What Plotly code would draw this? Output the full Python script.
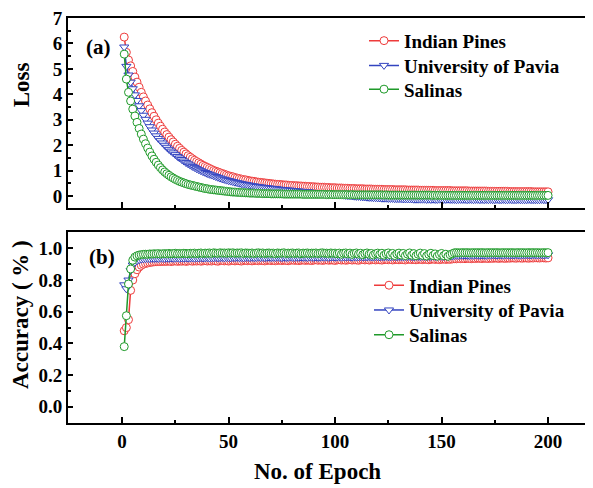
import plotly.graph_objects as go

epochs = list(range(1, 201))

loss_indian = [
    6.25, 5.65, 5.35, 5.12, 4.90, 4.68, 4.48, 4.28, 4.08, 3.90,
    3.74, 3.58, 3.43, 3.28, 3.14, 3.00, 2.87, 2.75, 2.63, 2.52,
    2.42, 2.32, 2.22, 2.13, 2.04, 1.96, 1.88, 1.80, 1.73, 1.66,
    1.59, 1.53, 1.47, 1.41, 1.36, 1.31, 1.26, 1.21, 1.17, 1.13,
    1.09, 1.05, 1.01, 0.98, 0.95, 0.92, 0.89, 0.86, 0.83, 0.80,
    0.78, 0.76, 0.73, 0.71, 0.69, 0.67, 0.65, 0.64, 0.62, 0.60,
    0.59, 0.58, 0.56, 0.55, 0.54, 0.53, 0.52, 0.51, 0.50, 0.49,
    0.48, 0.47, 0.46, 0.46, 0.45, 0.44, 0.44, 0.43, 0.42, 0.42,
    0.41, 0.41, 0.40, 0.40, 0.39, 0.39, 0.38, 0.38, 0.37, 0.37,
    0.36, 0.36, 0.35, 0.35, 0.35, 0.34, 0.34, 0.33, 0.33, 0.33,
    0.32, 0.32, 0.32, 0.31, 0.31, 0.31, 0.30, 0.30, 0.30, 0.29,
    0.29, 0.29, 0.29, 0.28, 0.28, 0.28, 0.28, 0.27, 0.27, 0.27,
    0.27, 0.27, 0.26, 0.26, 0.26, 0.26, 0.26, 0.25, 0.25, 0.25,
    0.25, 0.25, 0.25, 0.24, 0.24, 0.24, 0.24, 0.24, 0.24, 0.23,
    0.23, 0.23, 0.23, 0.23, 0.23, 0.23, 0.22, 0.22, 0.22, 0.22,
    0.22, 0.22, 0.22, 0.22, 0.21, 0.21, 0.21, 0.21, 0.21, 0.21,
    0.21, 0.21, 0.20, 0.20, 0.20, 0.20, 0.20, 0.20, 0.20, 0.20,
    0.20, 0.19, 0.19, 0.19, 0.19, 0.19, 0.19, 0.19, 0.19, 0.19,
    0.19, 0.18, 0.18, 0.18, 0.18, 0.18, 0.18, 0.18, 0.18, 0.18,
    0.18, 0.18, 0.17, 0.17, 0.17, 0.17, 0.17, 0.17, 0.17, 0.17,
]

loss_pavia = [
    5.86, 5.10, 4.76, 4.48, 4.22, 3.98, 3.76, 3.55, 3.36, 3.18,
    3.02, 2.87, 2.73, 2.60, 2.48, 2.37, 2.27, 2.18, 2.09, 2.00,
    1.92, 1.84, 1.77, 1.70, 1.63, 1.56, 1.50, 1.44, 1.38, 1.32,
    1.27, 1.22, 1.17, 1.13, 1.08, 1.04, 1.00, 0.96, 0.93, 0.89,
    0.86, 0.83, 0.80, 0.77, 0.74, 0.71, 0.68, 0.66, 0.63, 0.61,
    0.59, 0.57, 0.55, 0.53, 0.51, 0.49, 0.47, 0.46, 0.44, 0.43,
    0.41, 0.40, 0.38, 0.37, 0.36, 0.35, 0.34, 0.33, 0.32, 0.31,
    0.30, 0.29, 0.28, 0.27, 0.26, 0.25, 0.24, 0.24, 0.23, 0.22,
    0.21, 0.20, 0.20, 0.19, 0.18, 0.17, 0.17, 0.16, 0.15, 0.14,
    0.14, 0.13, 0.12, 0.11, 0.11, 0.10, 0.09, 0.08, 0.08, 0.07,
    0.06, 0.05, 0.05, 0.04, 0.03, 0.02, 0.02, 0.01, 0.00, -0.01,
    -0.01, -0.02, -0.03, -0.03, -0.04, -0.05, -0.05, -0.06, -0.06, -0.07,
    -0.07, -0.08, -0.08, -0.08, -0.09, -0.09, -0.09, -0.10, -0.10, -0.10,
    -0.10, -0.11, -0.11, -0.11, -0.11, -0.11, -0.12, -0.12, -0.12, -0.12,
    -0.12, -0.12, -0.13, -0.12, -0.13, -0.12, -0.13, -0.13, -0.12, -0.13,
    -0.13, -0.13, -0.12, -0.13, -0.13, -0.13, -0.14, -0.13, -0.13, -0.13,
    -0.13, -0.14, -0.13, -0.13, -0.14, -0.13, -0.13, -0.14, -0.13, -0.14,
    -0.13, -0.14, -0.13, -0.14, -0.14, -0.13, -0.14, -0.14, -0.13, -0.14,
    -0.14, -0.13, -0.14, -0.14, -0.14, -0.13, -0.14, -0.14, -0.14, -0.14,
    -0.13, -0.14, -0.14, -0.14, -0.14, -0.14, -0.13, -0.14, -0.14, -0.14,
]

loss_salinas = [
    5.58, 4.60, 4.08, 3.74, 3.42, 3.15, 2.90, 2.66, 2.44, 2.24,
    2.06, 1.89, 1.73, 1.58, 1.45, 1.33, 1.22, 1.12, 1.03, 0.95,
    0.88, 0.82, 0.76, 0.71, 0.66, 0.62, 0.58, 0.55, 0.52, 0.49,
    0.46, 0.44, 0.42, 0.40, 0.38, 0.36, 0.34, 0.32, 0.30, 0.29,
    0.27, 0.26, 0.25, 0.24, 0.23, 0.22, 0.21, 0.20, 0.19, 0.18,
    0.17, 0.16, 0.16, 0.15, 0.15, 0.14, 0.14, 0.13, 0.13, 0.12,
    0.12, 0.12, 0.11, 0.11, 0.11, 0.10, 0.10, 0.10, 0.10, 0.09,
    0.09, 0.09, 0.09, 0.09, 0.09, 0.08, 0.08, 0.08, 0.08, 0.08,
    0.08, 0.08, 0.08, 0.08, 0.07, 0.07, 0.07, 0.07, 0.07, 0.07,
    0.07, 0.07, 0.07, 0.07, 0.07, 0.06, 0.06, 0.07, 0.06, 0.06,
    0.06, 0.06, 0.06, 0.06, 0.06, 0.06, 0.05, 0.06, 0.05, 0.05,
    0.05, 0.05, 0.05, 0.05, 0.05, 0.05, 0.05, 0.05, 0.05, 0.05,
    0.05, 0.05, 0.04, 0.05, 0.04, 0.04, 0.04, 0.04, 0.04, 0.04,
    0.04, 0.04, 0.04, 0.04, 0.04, 0.04, 0.04, 0.04, 0.04, 0.04,
    0.04, 0.04, 0.04, 0.04, 0.04, 0.03, 0.04, 0.03, 0.04, 0.03,
    0.03, 0.03, 0.03, 0.03, 0.03, 0.03, 0.03, 0.03, 0.03, 0.03,
    0.03, 0.03, 0.03, 0.03, 0.03, 0.03, 0.03, 0.03, 0.03, 0.03,
    0.03, 0.03, 0.03, 0.03, 0.03, 0.03, 0.03, 0.03, 0.03, 0.03,
    0.03, 0.03, 0.03, 0.03, 0.03, 0.03, 0.03, 0.03, 0.03, 0.03,
    0.03, 0.03, 0.03, 0.03, 0.03, 0.03, 0.03, 0.03, 0.03, 0.03,
]

acc_indian = [
    0.480, 0.500, 0.550, 0.735, 0.800, 0.840, 0.865, 0.882, 0.893, 0.900,
    0.905, 0.908, 0.911, 0.913, 0.915, 0.916, 0.917, 0.917, 0.918, 0.918,
    0.918, 0.920, 0.917, 0.919, 0.921, 0.918, 0.920, 0.919, 0.921, 0.918,
    0.920, 0.922, 0.919, 0.921, 0.920, 0.922, 0.919, 0.921, 0.923, 0.920,
    0.922, 0.920, 0.923, 0.921, 0.919, 0.922, 0.924, 0.921, 0.923, 0.920,
    0.922, 0.924, 0.921, 0.923, 0.922, 0.920, 0.923, 0.925, 0.922, 0.924,
    0.921, 0.923, 0.925, 0.922, 0.924, 0.923, 0.921, 0.924, 0.926, 0.923,
    0.925, 0.922, 0.924, 0.926, 0.923, 0.925, 0.924, 0.922, 0.925, 0.927,
    0.924, 0.926, 0.923, 0.925, 0.927, 0.924, 0.926, 0.925, 0.923, 0.926,
    0.928, 0.925, 0.927, 0.924, 0.926, 0.928, 0.925, 0.927, 0.926, 0.924,
    0.927, 0.929, 0.926, 0.928, 0.925, 0.927, 0.929, 0.926, 0.928, 0.927,
    0.925, 0.928, 0.930, 0.927, 0.929, 0.926, 0.928, 0.930, 0.927, 0.929,
    0.928, 0.926, 0.929, 0.931, 0.928, 0.930, 0.927, 0.929, 0.931, 0.928,
    0.930, 0.929, 0.927, 0.930, 0.932, 0.929, 0.931, 0.928, 0.930, 0.932,
    0.929, 0.931, 0.930, 0.928, 0.931, 0.933, 0.930, 0.932, 0.929, 0.931,
    0.933, 0.930, 0.932, 0.931, 0.933, 0.935, 0.934, 0.936, 0.935, 0.936,
    0.935, 0.937, 0.936, 0.935, 0.937, 0.936, 0.938, 0.937, 0.936, 0.938,
    0.937, 0.936, 0.938, 0.937, 0.939, 0.938, 0.937, 0.939, 0.938, 0.937,
    0.939, 0.938, 0.940, 0.939, 0.938, 0.940, 0.939, 0.938, 0.940, 0.939,
    0.938, 0.940, 0.939, 0.941, 0.940, 0.939, 0.941, 0.940, 0.939, 0.940,
]

acc_pavia = [
    0.770, 0.745, 0.800, 0.860, 0.895, 0.912, 0.922, 0.928, 0.932, 0.934,
    0.935, 0.936, 0.935, 0.937, 0.936, 0.937, 0.936, 0.938, 0.937, 0.936,
    0.938, 0.937, 0.939, 0.937, 0.938, 0.939, 0.937, 0.939, 0.938, 0.940,
    0.938, 0.939, 0.940, 0.938, 0.940, 0.939, 0.941, 0.939, 0.940, 0.941,
    0.939, 0.941, 0.940, 0.942, 0.940, 0.941, 0.942, 0.940, 0.942, 0.941,
    0.940, 0.942, 0.941, 0.943, 0.941, 0.942, 0.940, 0.942, 0.943, 0.941,
    0.943, 0.941, 0.942, 0.944, 0.942, 0.943, 0.941, 0.943, 0.944, 0.942,
    0.943, 0.942, 0.944, 0.943, 0.941, 0.944, 0.942, 0.943, 0.945, 0.943,
    0.942, 0.944, 0.943, 0.945, 0.943, 0.944, 0.942, 0.945, 0.944, 0.943,
    0.945, 0.943, 0.944, 0.946, 0.944, 0.945, 0.943, 0.945, 0.946, 0.944,
    0.945, 0.947, 0.944, 0.946, 0.945, 0.947, 0.946, 0.944, 0.947, 0.945,
    0.946, 0.948, 0.945, 0.947, 0.946, 0.948, 0.946, 0.945, 0.948, 0.947,
    0.946, 0.948, 0.947, 0.949, 0.947, 0.946, 0.949, 0.948, 0.947, 0.949,
    0.948, 0.947, 0.949, 0.948, 0.950, 0.948, 0.947, 0.950, 0.949, 0.948,
    0.950, 0.949, 0.948, 0.950, 0.949, 0.951, 0.949, 0.948, 0.951, 0.950,
    0.949, 0.951, 0.950, 0.952, 0.951, 0.955, 0.956, 0.955, 0.957, 0.956,
    0.957, 0.956, 0.955, 0.957, 0.956, 0.958, 0.957, 0.956, 0.958, 0.957,
    0.956, 0.958, 0.957, 0.959, 0.958, 0.957, 0.959, 0.958, 0.957, 0.959,
    0.958, 0.957, 0.959, 0.958, 0.960, 0.958, 0.957, 0.959, 0.958, 0.960,
    0.959, 0.958, 0.960, 0.959, 0.958, 0.960, 0.959, 0.958, 0.960, 0.959,
]

acc_salinas = [
    0.380, 0.575, 0.775, 0.870, 0.925, 0.945, 0.953, 0.958, 0.960, 0.962,
    0.963, 0.962, 0.965, 0.964, 0.966, 0.965, 0.967, 0.964, 0.966, 0.967,
    0.965, 0.968, 0.966, 0.967, 0.969, 0.966, 0.968, 0.967, 0.969, 0.968,
    0.966, 0.969, 0.968, 0.970, 0.967, 0.969, 0.971, 0.968, 0.970, 0.969,
    0.971, 0.968, 0.972, 0.970, 0.969, 0.972, 0.970, 0.971, 0.969, 0.972,
    0.970, 0.972, 0.969, 0.971, 0.970, 0.972, 0.968, 0.971, 0.970, 0.969,
    0.971, 0.968, 0.970, 0.972, 0.969, 0.971, 0.968, 0.970, 0.971, 0.969,
    0.970, 0.967, 0.971, 0.969, 0.970, 0.972, 0.968, 0.970, 0.969, 0.971,
    0.968, 0.970, 0.971, 0.967, 0.970, 0.969, 0.971, 0.968, 0.970, 0.969,
    0.971, 0.968, 0.970, 0.972, 0.969, 0.970, 0.968, 0.971, 0.969, 0.970,
    0.966, 0.970, 0.963, 0.969, 0.971, 0.965, 0.970, 0.962, 0.968, 0.971,
    0.964, 0.969, 0.960, 0.967, 0.971, 0.963, 0.968, 0.958, 0.966, 0.970,
    0.962, 0.969, 0.957, 0.966, 0.971, 0.960, 0.968, 0.955, 0.965, 0.970,
    0.958, 0.968, 0.954, 0.964, 0.971, 0.957, 0.967, 0.953, 0.963, 0.970,
    0.956, 0.967, 0.952, 0.962, 0.969, 0.955, 0.965, 0.951, 0.961, 0.968,
    0.954, 0.963, 0.950, 0.960, 0.966, 0.972, 0.973, 0.972, 0.972, 0.973,
    0.972, 0.973, 0.972, 0.972, 0.973, 0.972, 0.973, 0.972, 0.973, 0.972,
    0.972, 0.973, 0.972, 0.973, 0.972, 0.973, 0.972, 0.972, 0.973, 0.972,
    0.973, 0.972, 0.973, 0.972, 0.972, 0.973, 0.972, 0.973, 0.972, 0.972,
    0.973, 0.972, 0.973, 0.972, 0.973, 0.972, 0.972, 0.973, 0.972, 0.973,
]

names = ["Indian Pines", "University of Pavia", "Salinas"]
colors = ["#ee3b3b", "#3344c0", "#1f9a2a"]
symbols = ["circle", "triangle-down", "circle"]

FONT = "Liberation Serif, Times New Roman, serif"

# page body has an 8px margin: figure is drawn 8px smaller and all
# window-pixel positions below are converted through the paper domain
W, H = 585, 480
PL, PR, PT, PB = 60, 0, 6, 65          # margins in figure pixels
PW = W - PL - PR                        # 525
PH = H - PT - PB                        # 409
OFF = 8                                  # body margin


def px(xw):
    return (xw - OFF - PL) / PW


def py(yw):
    return (H - PB - (yw - OFF)) / PH


fig = go.Figure()

loss_sets = [loss_indian, loss_pavia, loss_salinas]
acc_sets = [acc_indian, acc_pavia, acc_salinas]

for i, (name, col, sym, ys) in enumerate(zip(names, colors, symbols, loss_sets)):
    fig.add_trace(go.Scatter(
        x=epochs, y=ys, name=name, mode="lines+markers",
        line=dict(color=col, width=1.5),
        marker=dict(symbol=sym, size=8, color="white", line=dict(color=col, width=1)),
        xaxis="x", yaxis="y", legend="legend" if i == 0 else f"legend{i + 1}",
    ))

for i, (name, col, sym, ys) in enumerate(zip(names, colors, symbols, acc_sets)):
    fig.add_trace(go.Scatter(
        x=epochs, y=ys, name=name, mode="lines+markers",
        line=dict(color=col, width=1.5),
        marker=dict(symbol=sym, size=8, color="white", line=dict(color=col, width=1)),
        xaxis="x2", yaxis="y2", legend=f"legend{i + 4}",
    ))

tickfont = dict(family=FONT, size=19, color="black", weight="bold")
common_x = dict(
    range=[-25.4, 221.1], tickvals=[0, 50, 100, 150, 200],
    ticks="inside", ticklen=6, tickwidth=1.5, tickcolor="black",
    showline=True, linewidth=2, linecolor="black", mirror=True,
    showgrid=False, zeroline=False,
    minor=dict(ticks="inside", ticklen=3.5, tickwidth=1.5, tickcolor="black",
               tickvals=[25, 75, 125, 175], showgrid=False),
    tickfont=tickfont,
)
common_y = dict(
    ticks="inside", ticklen=5, tickwidth=1.5, tickcolor="black",
    showline=True, linewidth=2, linecolor="black", mirror=False,
    showgrid=False, zeroline=False, tickfont=tickfont,
    ticklabeloverflow="allow",
)

legfont = dict(family=FONT, size=19, color="black", weight="bold")
legends = {}
top_rows = [37, 62, 86]
bot_rows = [284, 309, 334]
for i, yrow in enumerate(top_rows + bot_rows):
    key = "legend" if i == 0 else f"legend{i + 1}"
    xl = 364 if i < 3 else 369
    legends[key] = dict(x=px(xl), y=py(yrow), xanchor="left", yanchor="middle",
                        bgcolor="rgba(0,0,0,0)", borderwidth=0, font=legfont)

fig.update_layout(
    width=W, height=H,
    margin=dict(l=PL, r=PR, t=PT, b=PB),
    paper_bgcolor="white", plot_bgcolor="white",
    showlegend=True,
    xaxis=dict(common_x, anchor="y", domain=[0, 1], showticklabels=False),
    yaxis=dict(common_y, anchor="x", domain=[py(206), 1.0],
               range=[-0.47, 7.0], tickvals=[0, 1, 2, 3, 4, 5, 6, 7],
               minor=dict(ticks="inside", ticklen=3, tickwidth=1.5, tickcolor="black",
                          dtick=0.5, showgrid=False)),
    xaxis2=dict(common_x, anchor="y2", domain=[0, 1]),
    yaxis2=dict(common_y, anchor="x2", domain=[0, py(230)],
                range=[-0.102, 1.104], tickvals=[0, 0.2, 0.4, 0.6, 0.8, 1.0],
                ticktext=["0.0", "0.2", "0.4", "0.6", "0.8", "1.0"],
                minor=dict(ticks="inside", ticklen=3, tickwidth=1.5, tickcolor="black",
                           dtick=0.1, showgrid=False)),
    annotations=[
        dict(text="(a)", xref="paper", yref="paper", x=px(98), y=py(43),
             xanchor="center", yanchor="middle", showarrow=False,
             font=dict(family=FONT, size=21, color="black", weight="bold")),
        dict(text="(b)", xref="paper", yref="paper", x=px(102), y=py(255),
             xanchor="center", yanchor="middle", showarrow=False,
             font=dict(family=FONT, size=21, color="black", weight="bold")),
        dict(text="Loss", xref="paper", yref="paper", x=px(21), y=py(82),
             xanchor="center", yanchor="middle", showarrow=False, textangle=-90,
             font=dict(family=FONT, size=23, color="black", weight="bold")),
        dict(text="Accuracy ( % )", xref="paper", yref="paper", x=px(20), y=py(314),
             xanchor="center", yanchor="middle", showarrow=False, textangle=-90,
             font=dict(family=FONT, size=23, color="black", weight="bold")),
        dict(text="No. of Epoch", xref="paper", yref="paper", x=px(317), y=py(472),
             xanchor="center", yanchor="middle", showarrow=False,
             font=dict(family=FONT, size=23, color="black", weight="bold")),
    ],
    **legends,
)

fig.write_html("out.html")
